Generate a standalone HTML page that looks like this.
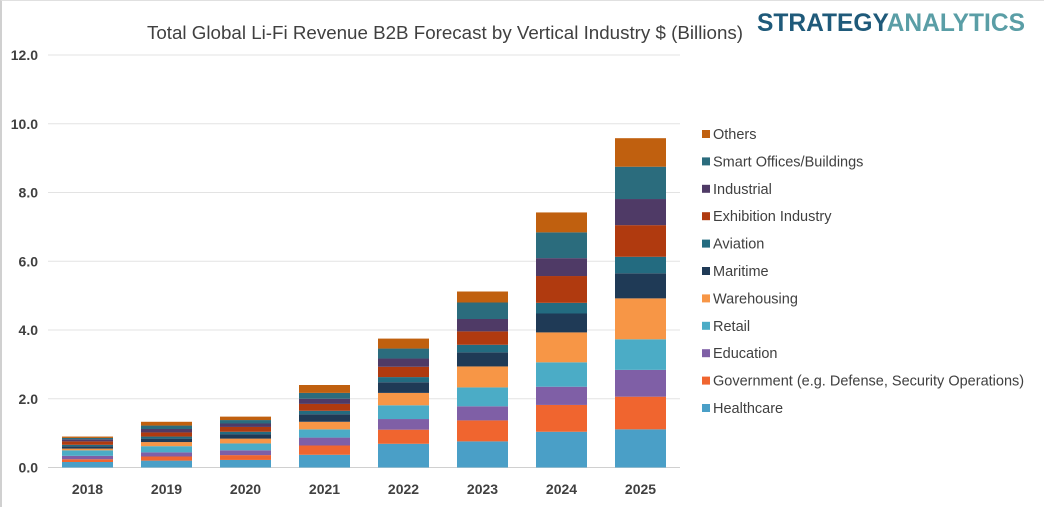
<!DOCTYPE html>
<html><head><meta charset="utf-8"><style>
body{margin:0;background:#fff;}
#wrap{position:relative;width:1044px;height:507px;overflow:hidden;background:#fff;border-left:2px solid #d0d0d0;border-top:1px solid #e0e0e0;box-sizing:border-box;font-family:"Liberation Sans",sans-serif;}
</style></head><body>
<div id="wrap">
<svg id="chart" width="1044" height="507" style="position:absolute;left:-2px;top:-1px"></svg>
</div>
<script>
const years=["2018","2019","2020","2021","2022","2023","2024","2025"];
const seriesNames=["Healthcare","Government (e.g. Defense, Security Operations)","Education","Retail","Warehousing","Maritime","Aviation","Exhibition Industry","Industrial","Smart Offices/Buildings","Others"];
const healthcare=[0.16,0.20,0.22,0.37,0.69,0.76,1.04,1.11];
const government=[0.08,0.12,0.14,0.27,0.41,0.61,0.78,0.95];
const education=[0.10,0.12,0.14,0.23,0.31,0.41,0.53,0.78];
const retail=[0.16,0.18,0.20,0.24,0.40,0.55,0.71,0.89];
const warehousing=[0.05,0.12,0.14,0.22,0.36,0.61,0.87,1.19];
const maritime=[0.07,0.10,0.13,0.22,0.31,0.41,0.55,0.73];
const aviation=[0.04,0.06,0.07,0.10,0.15,0.22,0.31,0.48];
const exhibition=[0.10,0.12,0.14,0.20,0.30,0.39,0.78,0.92];
const industrial=[0.06,0.10,0.10,0.15,0.24,0.36,0.52,0.76];
const smartOffices=[0.04,0.10,0.10,0.17,0.29,0.48,0.75,0.94];
const others=[0.04,0.11,0.10,0.23,0.29,0.32,0.58,0.83];
const yTicks=["0.0","2.0","4.0","6.0","8.0","10.0","12.0"];
const series=[healthcare,government,education,retail,warehousing,maritime,aviation,exhibition,industrial,smartOffices,others];
const colors=["#4a9fc7","#f0652f","#7f5fa6","#4bacc6","#f79646","#1f3a56","#236b80","#b03a0f","#4f3a66","#2b6c7d","#c0600f"];
const NS="http://www.w3.org/2000/svg";
const svg=document.getElementById('chart');
function mk(t,a){const e=document.createElementNS(NS,t);for(const k in a)e.setAttribute(k,a[k]);svg.appendChild(e);return e;}
const x0=48,x1=680,y0=467.5,y12=55;
const yS=v=>y0-(y0-y12)*v/12;
const band=(x1-x0)/years.length;
const xS=i=>x0+band*(i+0.5);
const bw=51;
let t=mk('text',{x:147,y:39,'font-size':18,fill:'#404040',textLength:596,lengthAdjust:'spacingAndGlyphs'});t.textContent="Total Global Li-Fi Revenue B2B Forecast by Vertical Industry $ (Billions)";


let lg=mk('text',{x:757,y:31,'font-size':25,'font-weight':'bold',textLength:268,lengthAdjust:'spacingAndGlyphs'});
lg.innerHTML='<tspan fill="#1f5a7a">STRATEGY</tspan><tspan fill="#5a9ea6">ANALYTICS</tspan>';


yTicks.forEach(s=>{const v=parseFloat(s),y=yS(v);
 const g=mk('line',{x1:x0,x2:x1,y1:y,y2:y,stroke:v===0?'#d0d0d0':'#e3e3e3','stroke-width':1});
 
 
 const l=mk('text',{x:38,y:y+5,'text-anchor':'end','font-size':14,'font-weight':'bold',fill:'#404040'});l.textContent=s;
 
 
});
years.forEach((yr,i)=>{let acc=0;
 series.forEach((s,k)=>{const ya=yS(acc),yb=yS(acc+s[i]);acc+=s[i];
  const r=mk('rect',{x:xS(i)-bw/2,y:yb,width:bw,height:ya-yb,fill:colors[k]});
  
  
 });
 const l=mk('text',{x:xS(i),y:494,'text-anchor':'middle','font-size':14,'font-weight':'bold',fill:'#404040'});l.textContent=yr;
 
 
});
for(let k=seriesNames.length-1,j=0;k>=0;k--,j++){const y=134+j*27.4;
 const m=mk('rect',{x:702,y:y-4,width:8,height:8,fill:colors[k]});
 
 
 const l=mk('text',{x:713,y:y+5,'font-size':14.5,fill:'#404040'});l.textContent=seriesNames[k];
 
 
}
</script>
</body></html>
